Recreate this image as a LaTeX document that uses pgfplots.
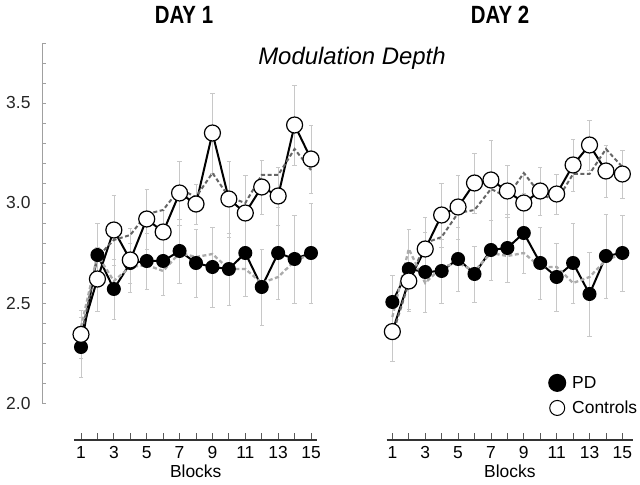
\documentclass[border=0pt]{standalone}
\usepackage{fontspec}
\setmainfont{Liberation Sans}
\newfontfamily\dayfont[FakeStretch=0.82]{Liberation Sans}
\usepackage{pgfplots}
\usepackage{pgfplotstable}
\pgfplotsset{compat=1.18}

\definecolor{barcol}{HTML}{C8C8C8}
\definecolor{fitdark}{HTML}{666666}
\definecolor{fitlight}{HTML}{ABABAB}
\definecolor{axiscol}{HTML}{333333}
\definecolor{yaxcol}{HTML}{A0A0A0}
\newcommand{\lbl}{\fontsize{17.5}{21}\selectfont}

% b = block, pd/ct = group means, pde/cte = error, pdf/ctf = dashed (fit) lines
\pgfplotstableread{
b  pd    pde   ct    cte   pdf   ctf
1  2.28  0.15  2.343 0.12  2.38  2.33
2  2.74  0.16  2.62  0.16  2.74  2.73
3  2.57  0.15  2.865 0.175 2.61  2.815
4  2.70  0.10  2.715 0.16  2.68  2.84
5  2.71  0.14  2.92  0.15  2.69  2.945
6  2.71  0.17  2.855 0.11  2.66  2.965
7  2.76  0.16  3.05  0.16  2.75  3.07
8  2.70  0.17  2.995 0.10  2.73  3.03
9  2.68  0.20  3.35  0.20  2.745 3.15
10 2.67  0.18  3.02  0.19  2.67  3.03
11 2.75  0.215 2.95  0.19  2.67  3.00
12 2.58  0.19  3.08  0.135 2.60  3.14
13 2.75  0.23  3.035 0.145 2.63  3.14
14 2.72  0.22  3.39  0.20  2.71  3.27
15 2.75  0.25  3.22  0.17  2.745 3.165
}\dayone

\pgfplotstableread{
b  pd    pde   ct    cte   pdf   ctf
1  2.505 0.135 2.357 0.15  2.43  2.34
2  2.67  0.20  2.61  0.15  2.77  2.60
3  2.655 0.20  2.77  0.16  2.60  2.80
4  2.66  0.16  2.94  0.16  2.68  2.83
5  2.72  0.16  2.98  0.16  2.70  2.95
6  2.645 0.14  3.10  0.15  2.66  2.965
7  2.765 0.15  3.115 0.20  2.75  3.07
8  2.775 0.17  3.06  0.13  2.735 3.03
9  2.85  0.20  3.00  0.15  2.75  3.15
10 2.70  0.18  3.06  0.12  2.68  3.045
11 2.63  0.17  3.045 0.10  2.68  3.01
12 2.70  0.20  3.19  0.13  2.60  3.145
13 2.545 0.21  3.29  0.125 2.63  3.145
14 2.735 0.21  3.16  0.13  2.715 3.27
15 2.75  0.19  3.145 0.12  2.745 3.18
}\daytwo

\pgfplotsset{
  panel/.style={
    x=16.43bp, y=200bp, ymin=1.815, ymax=3.8, clip=false,
    anchor=south west,
    axis x line=bottom, axis y line=none,
    x axis line style={-, draw=axiscol, line width=2.2bp},
    xtick={1,3,...,15}, minor xtick={2,4,...,14},
    tick align=inside, major tick length=7bp, minor tick length=7bp,
    tick style={draw=gray!70!black, line width=0.8bp},
    xticklabel style={font=\lbl, text=black, yshift=-3bp},
    /pgf/number format/assume math mode=true,
    xlabel={Blocks}, xlabel style={font=\lbl, yshift=1bp},
  },
  ebar/.style={only marks, mark=none, forget plot,
    error bars/.cd, y dir=both, y explicit,
    error bar style={draw=barcol, line width=0.7bp, solid},
    error mark options={rotate=90, draw=barcol, mark size=2.2bp, line width=0.7bp}},
  pdline/.style={black, line width=2bp, mark=*, mark size=6bp,
    mark options={fill=black, solid}},
  ctline/.style={black, line width=2bp, mark=*, mark size=8bp,
    mark options={fill=white, solid, line width=1.2bp}},
  darkfit/.style={fitdark, line width=2bp, dash pattern=on 4bp off 2.5bp, forget plot},
  lightfit/.style={fitlight, line width=2.3bp, dash pattern=on 4bp off 2.5bp, forget plot},
}

\begin{document}
\begin{tikzpicture}
\useasboundingbox (0,0) rectangle (640bp,485bp);

% titles
\node[anchor=base, font=\dayfont\bfseries\fontsize{25}{30}\selectfont] at (184bp,461bp) {DAY 1};
\node[anchor=base, font=\dayfont\bfseries\fontsize{25}{30}\selectfont] at (500bp,461bp) {DAY 2};
\node[anchor=base, font=\itshape\fontsize{24}{28}\selectfont] at (352bp,420bp) {Modulation Depth};

% y axis
\begin{axis}[
  at={(42bp,82bp)}, anchor=south west,
  xmin=0, xmax=1, x=1bp, ymin=2, ymax=3.8, y=200bp,
  axis y line=left, axis x line=none,
  y axis line style={-, draw=yaxcol, line width=0.9bp},
  ytick={2,2.5,3,3.5},
  minor ytick={2.1,2.2,2.3,2.4,2.6,2.7,2.8,2.9,3.1,3.2,3.3,3.4,3.6,3.7,3.8},
  tick align=inside, major tick length=4bp, minor tick length=4bp,
  tick style={draw=yaxcol, line width=0.8bp},
  yticklabel style={font=\lbl, text=black!85, xshift=-8bp,
    /pgf/number format/fixed, /pgf/number format/fixed zerofill,
    /pgf/number format/precision=1},
  /pgf/number format/assume math mode=true,
]
\end{axis}

% Day 1 panel
\begin{axis}[panel, at={(74bp,45bp)}, xmin=0.574, xmax=15.39]
  \addplot[ebar] table[x=b, y=ct, y error=cte] {\dayone};
  \addplot[ebar] table[x=b, y=pd, y error=pde] {\dayone};
  \addplot[pdline, forget plot] table[x=b, y=pd] {\dayone};
  \addplot[ctline, forget plot] table[x=b, y=ct] {\dayone};
  \addplot[darkfit] table[x=b, y=ctf] {\dayone};
  \addplot[lightfit] table[x=b, y=pdf] {\dayone};
\end{axis}

% Day 2 panel
\begin{axis}[panel, at={(386.6bp,45bp)}, xmin=0.65, xmax=15.65,
  legend style={draw=none, fill=none, at={(0.655,0.167)}, anchor=north west,
    font=\lbl, row sep=7bp, inner sep=0pt},
  legend cell align=left]
  \addplot[ebar] table[x=b, y=ct, y error=cte] {\daytwo};
  \addplot[ebar] table[x=b, y=pd, y error=pde] {\daytwo};
  \addplot[pdline,
    legend image code/.code={\fill[black] (0bp,0bp) circle (8bp); \path (12bp,0bp);}]
    table[x=b, y=pd] {\daytwo};
  \addlegendentry{PD}
  \addplot[ctline,
    legend image code/.code={\draw[black, line width=1bp, fill=white] (0bp,0bp) circle (7.5bp); \path (12bp,0bp);}]
    table[x=b, y=ct] {\daytwo};
  \addlegendentry{Controls}
  \addplot[darkfit] table[x=b, y=ctf] {\daytwo};
  \addplot[lightfit] table[x=b, y=pdf] {\daytwo};
\end{axis}
\end{tikzpicture}
\end{document}
